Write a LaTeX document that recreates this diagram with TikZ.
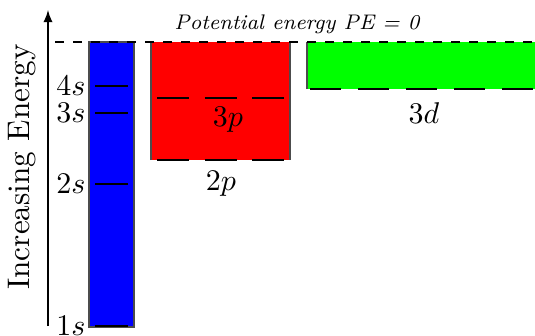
\documentclass[tikz,border=0pt]{standalone}
\usepackage{amsmath}
\usepackage{tikz}
\usetikzlibrary{arrows}

\begin{document}
\begin{tikzpicture}[x=0.3333pt,y=0.3333pt]
	    \tikzstyle{band}=[draw=black!70,line width=0.4pt]
	    \tikzstyle{orbital}=[draw=black,line width=0.5pt]
	    \tikzstyle{shell}=[inner sep=1pt,anchor=east]
	    \useasboundingbox (0,0) rectangle (535,335);
 
	    % energy bands
	    \fill[blue] (89,8) rectangle (134,293);
	    \draw[band] (89,8) rectangle (134,293);
	    \fill[red] (151,175) rectangle (290,293);
	    \draw[band] (151,175) -- (151,293);
	    \draw[band] (290,175) -- (290,293);
	    \fill[green] (307,246) rectangle (535,293);
	    \draw[band] (307,246) -- (307,293);
 
	    % potential energy zero
	    \draw[dashed] (55,293) -- (535,293);
	    \node[scale=0.88](pe) at (297,311){\footnotesize\itshape Potential energy PE = 0};
 
	    % s levels
	    \draw[orbital] (95,249) -- (128,249);
	    \draw[orbital] (95,222) -- (128,222);
	    \draw[orbital] (95,151) -- (128,151);
	    \draw[orbital] (95,9) -- (128,9);
	    \node[shell](s4) at (89,249){$4s$};
	    \node[shell](s3) at (89,222){$3s$};
	    \node[shell](s2) at (89,151){$2s$};
	    \node[shell](s1) at (89,9){$1s$};
 
	    % p levels
	    \foreach \i in {0,1,2} {
	        \draw[orbital] (157+\i*47.5,237) -- ++(32,0);
	        \draw[orbital] (157+\i*47.5,175) -- ++(32,0);
	    }
	    \node(p3) at (228,215){$3p$};
	    \node(p2) at (221,151){$2p$};
 
	    % d levels
	    \foreach \i in {0,...,4}
	        \draw[orbital] (310+\i*48,246) -- ++(31,0);
	    \node(d3) at (424,222){$3d$};
 
	    % energy axis
	    \coordinate(ax0) at (48,9);
	    \coordinate(ax1) at (48,325);
	    \draw[-latex] (ax0) -- (ax1);
	    \node[rotate=90,scale=1.04](ylab) at (22,168){Increasing Energy};
	\end{tikzpicture}
\end{document}
